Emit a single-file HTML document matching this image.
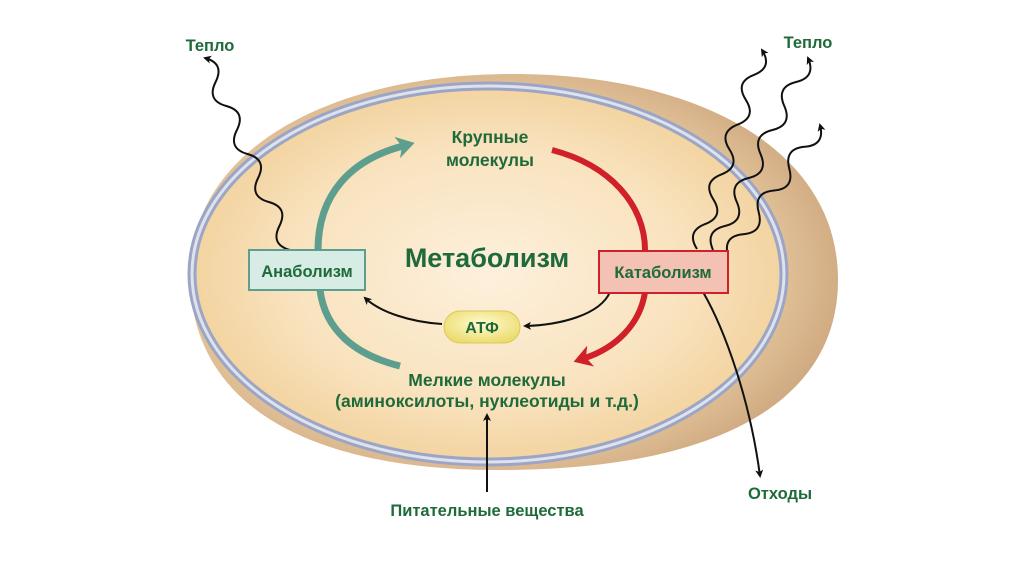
<!DOCTYPE html>
<html><head><meta charset="utf-8">
<style>
html,body{margin:0;padding:0;background:#fff;}
svg{display:block;}
text{font-family:"Liberation Sans",sans-serif;font-weight:bold;}
</style></head>
<body>
<svg id="s" width="1024" height="574" viewBox="0 0 1024 574" xmlns="http://www.w3.org/2000/svg">
<defs>
<radialGradient id="outer" cx="0.45" cy="0.5" r="0.6">
<stop offset="0.7" stop-color="#e9caa0"/><stop offset="1" stop-color="#c9a27a"/>
</radialGradient>
<radialGradient id="inner" cx="0.5" cy="0.5" r="0.55">
<stop offset="0" stop-color="#fdf0dc"/><stop offset="0.6" stop-color="#f9e3bf"/><stop offset="1" stop-color="#f1cf98"/>
</radialGradient>
<radialGradient id="atp" cx="0.5" cy="0.4" r="0.6">
<stop offset="0" stop-color="#fffbd0"/><stop offset="1" stop-color="#ecdc70"/>
</radialGradient>
<marker id="ab" markerWidth="8" markerHeight="8" refX="6" refY="4" orient="auto" markerUnits="userSpaceOnUse"><path d="M0,0 L8,4 L0,8 L2,4z" fill="#111"/></marker>
<marker id="at" markerWidth="22" markerHeight="22" refX="6" refY="11" orient="auto" markerUnits="userSpaceOnUse"><path d="M0,0 L18,11 L0,22 L5,11z" fill="#5e9e8e"/></marker>
<marker id="ar" markerWidth="22" markerHeight="22" refX="6" refY="11" orient="auto" markerUnits="userSpaceOnUse"><path d="M0,0 L18,11 L0,22 L5,11z" fill="#d0202a"/></marker>
</defs>
<path d="M190,275 C190,150 330,72 520,74 C700,76 838,150 838,280 C838,400 720,470 500,470 C300,470 190,400 190,275Z" fill="url(#outer)"/>
<ellipse cx="488" cy="274" rx="296" ry="188" fill="url(#inner)" stroke="#9ca6c4" stroke-width="9"/>
<ellipse cx="488" cy="274" rx="296" ry="188" fill="none" stroke="#dde2ee" stroke-width="3"/>
<path d="M318,250 C318,195 350,160 403,146" fill="none" stroke="#5e9e8e" stroke-width="7" marker-end="url(#at)"/>
<path d="M320,290 C325,330 355,355 400,366" fill="none" stroke="#5e9e8e" stroke-width="7"/>
<path d="M552,150 C610,165 645,205 645,250" fill="none" stroke="#d0202a" stroke-width="6"/>
<path d="M645,292 C640,325 615,348 585,358" fill="none" stroke="#d0202a" stroke-width="6" marker-end="url(#ar)"/>
<path d="M610,292 C600,315 560,325 525,326" fill="none" stroke="#111" stroke-width="2" marker-end="url(#ab)"/>
<path d="M442,324 C410,322 380,312 365,298" fill="none" stroke="#111" stroke-width="2" marker-end="url(#ab)"/>
<path d="M487,492 L487,415" fill="none" stroke="#111" stroke-width="2" marker-end="url(#ab)"/>
<path d="M703,292 C725,330 750,400 760,476" fill="none" stroke="#111" stroke-width="2" marker-end="url(#ab)"/>
<g id="waves" fill="none" stroke="#111" stroke-width="2"></g>
<rect x="249" y="250" width="116" height="40" fill="#d7ece4" stroke="#5e9e8e" stroke-width="2"/>
<text x="307" y="277" text-anchor="middle" font-size="16.5" fill="#1e6a3a">Анаболизм</text>
<rect x="599" y="251" width="129" height="42" fill="#f3c2b4" stroke="#d0202a" stroke-width="2"/>
<text x="663" y="278" text-anchor="middle" font-size="16.5" fill="#1e6a3a">Катаболизм</text>
<rect x="444" y="311" width="76" height="32" rx="16" fill="url(#atp)" stroke="#d9c95a" stroke-width="1"/>
<text x="482" y="333" text-anchor="middle" font-size="16" fill="#1e6a3a">АТФ</text>
<text x="487" y="267" text-anchor="middle" font-size="27" fill="#1e6a3a">Метаболизм</text>
<text x="490" y="143" text-anchor="middle" font-size="17.5" fill="#1e6a3a">Крупные</text>
<text x="490" y="166" text-anchor="middle" font-size="17.5" fill="#1e6a3a">молекулы</text>
<text x="487" y="386" text-anchor="middle" font-size="17.5" fill="#1e6a3a">Мелкие молекулы</text>
<text x="487" y="407" text-anchor="middle" font-size="17.5" fill="#1e6a3a">(аминоксилоты, нуклеотиды и т.д.)</text>
<text x="487" y="516" text-anchor="middle" font-size="16.5" fill="#1e6a3a">Питательные вещества</text>
<text x="780" y="499" text-anchor="middle" font-size="16.5" fill="#1e6a3a">Отходы</text>
<text x="210" y="51" text-anchor="middle" font-size="16.5" fill="#1e6a3a">Тепло</text>
<text x="808" y="48" text-anchor="middle" font-size="16.5" fill="#1e6a3a">Тепло</text>
</svg>
<script>
var g=document.getElementById('waves');
function wave(x1,y1,x2,y2,n,a){
 var dx=x2-x1,dy=y2-y1,L=Math.hypot(dx,dy),ux=dx/L,uy=dy/L,px=-uy,py=ux;
 var d='M'+x1+','+y1;
 for(var i=0;i<n;i++){
  var t0=i/n,t1=(i+1)/n,tm=(t0+t1)/2,s=(i%2?1:-1)*a*2;
  var cx=x1+dx*tm+px*s,cy=y1+dy*tm+py*s;
  d+=' Q'+cx.toFixed(1)+','+cy.toFixed(1)+' '+(x1+dx*t1).toFixed(1)+','+(y1+dy*t1).toFixed(1);
 }
 var p=document.createElementNS('http://www.w3.org/2000/svg','path');
 p.setAttribute('d',d);p.setAttribute('marker-end','url(#ab)');g.appendChild(p);
}
wave(290,250,205,58,8,8);
wave(697,249,762,50,8,8);
wave(713,250,808,58,8,8);
wave(728,256,820,125,6,8);
</script>
</body></html>
